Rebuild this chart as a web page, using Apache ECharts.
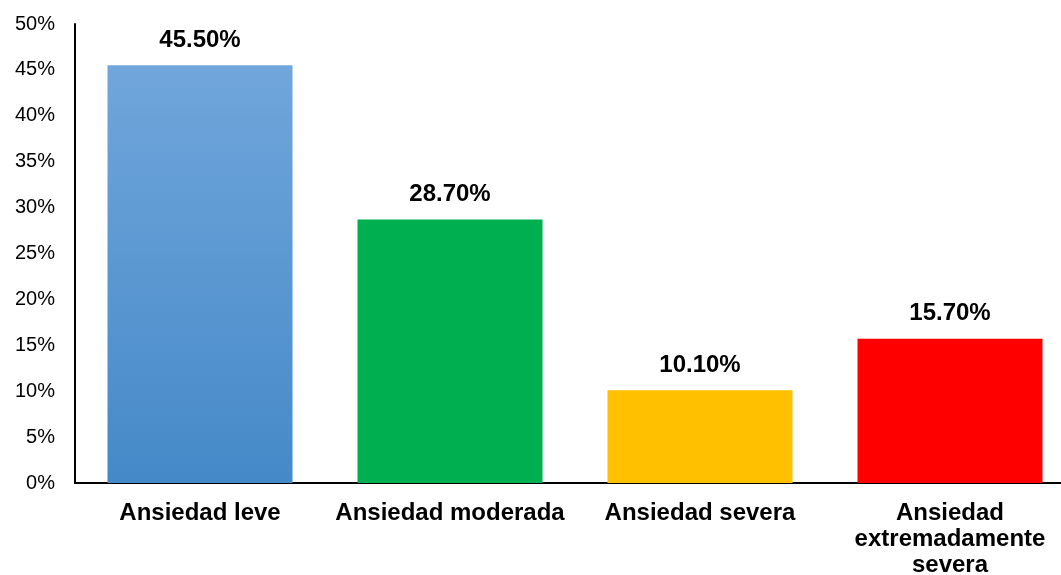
<!DOCTYPE html>
<html>
<head>
<meta charset="utf-8">
<script src="https://cdn.jsdelivr.net/npm/echarts@6/dist/echarts.min.js"></script>
<style>html,body{margin:0;padding:0;background:#fff;}#c{width:1061px;height:575px;}</style>
</head>
<body>
<div id="c"></div>
<script>
const categories = ['Ansiedad leve', 'Ansiedad moderada', 'Ansiedad severa', 'Ansiedad\nextremadamente\nsevera'];
const values = [45.5, 28.7, 10.1, 15.7];
const yTicks = [0, 5, 10, 15, 20, 25, 30, 35, 40, 45, 50];

const colors = [
  new echarts.graphic.LinearGradient(0, 0, 0, 1, [{offset: 0, color: '#70a6db'}, {offset: 1, color: '#4589c8'}]),
  '#00b050', '#ffc000', '#ff0000'
];

const chart = echarts.init(document.getElementById('c'), null, {renderer: 'canvas'});
chart.setOption({
  animation: false,
  grid: {left: 75, top: 24, right: -14, bottom: 92, containLabel: false, outerBoundsMode: 'none'},
  xAxis: {
    type: 'category',
    data: categories,
    axisLine: {lineStyle: {color: '#000', width: 2}},
    axisTick: {show: false},
    axisLabel: {
      color: '#000', fontFamily: 'Liberation Sans, Arial, sans-serif', fontWeight: 'bold',
      fontSize: 24, lineHeight: 26, margin: 17, interval: 0
    }
  },
  yAxis: {
    type: 'value', min: yTicks[0], max: yTicks[yTicks.length - 1], interval: 5,
    axisLine: {show: true, lineStyle: {color: '#000', width: 2}},
    axisTick: {show: false},
    splitLine: {show: false},
    axisLabel: {
      color: '#000', fontFamily: 'Liberation Sans, Arial, sans-serif', fontSize: 20, margin: 20,
      formatter: v => v + '%'
    }
  },
  series: [{
    type: 'bar',
    barWidth: 185,
    data: values.map((v, i) => ({value: v, itemStyle: {color: colors[i]}})),
    label: {
      show: true, position: 'top', distance: 13,
      color: '#000', fontFamily: 'Liberation Sans, Arial, sans-serif', fontWeight: 'bold', fontSize: 24,
      formatter: p => p.value.toFixed(2) + '%'
    }
  }]
});
</script>
</body>
</html>
